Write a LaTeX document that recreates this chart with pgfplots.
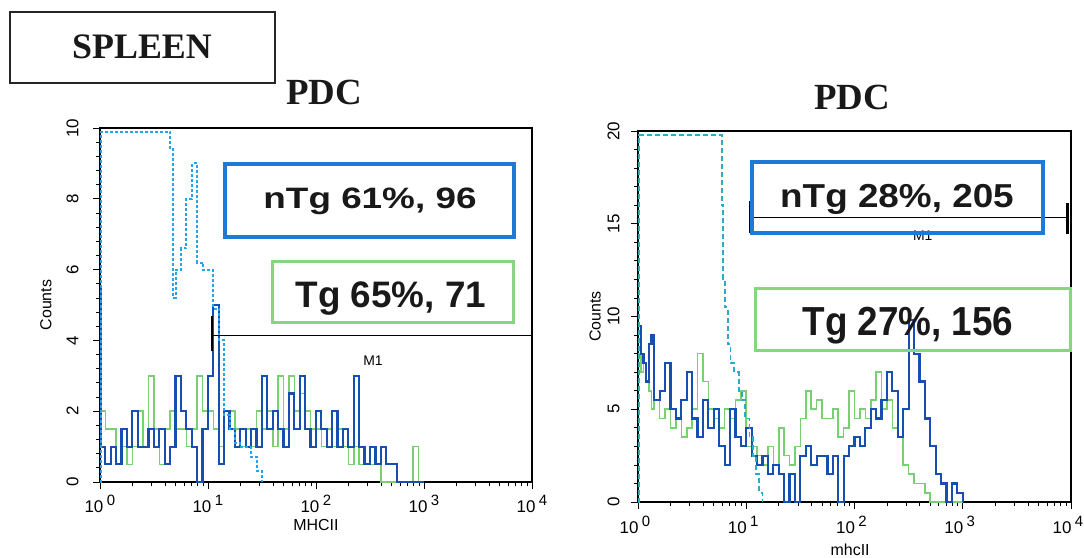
\documentclass[border=0pt]{standalone}
\usepackage{pgfplots}
\pgfplotsset{compat=1.18}
\usepackage{pgfplotstable}
\usepackage{fontspec}
\setmainfont{Liberation Sans}
\newfontfamily\timesf{Liberation Serif}

\definecolor{dblue}{RGB}{22,78,178}
\definecolor{tggreen}{RGB}{120,208,112}
\definecolor{isoL}{RGB}{35,165,235}
\definecolor{isoR}{RGB}{40,172,200}
\definecolor{boxblue}{RGB}{30,122,215}
\definecolor{boxgreen}{RGB}{135,212,130}

% left panel: e = log10(MHCII), counts
\pgfplotstableread{
e nTg Tg
0.00 5.5 2.0
0.01 1.0 2.0
0.05 0.5 1.5
0.10 1.0 1.5
0.15 0.5 0.5
0.20 1.5 1.0
0.25 1.0 0.5
0.30 2.0 1.0
0.35 1.0 2.0
0.40 1.0 1.0
0.45 1.5 3.0
0.50 1.0 1.5
0.55 1.5 0.5
0.60 0.5 1.5
0.65 1.0 2.0
0.70 3.0 1.5
0.75 2.0 1.5
0.80 1.5 1.0
0.85 1.0 1.5
0.90 0.0 3.0
0.95 1.5 2.0
1.00 3.0 2.0
1.05 5.0 1.5
1.10 0.5 1.0
1.15 2.0 2.0
1.20 1.5 2.0
1.25 1.0 1.5
1.30 1.5 1.0
1.35 1.0 1.5
1.40 1.5 1.0
1.45 1.0 2.0
1.50 3.0 1.5
1.55 1.5 2.0
1.60 2.0 1.0
1.65 1.5 3.0
1.70 1.0 1.5
1.75 2.5 3.0
1.80 1.5 2.0
1.85 3.0 2.5
1.90 1.5 2.0
1.95 1.0 1.5
2.00 2.0 1.5
2.05 1.5 1.0
2.10 1.0 1.5
2.15 2.0 1.0
2.20 1.0 1.5
2.25 1.5 1.0
2.30 1.0 0.5
2.35 3.0 1.0
2.40 1.0 0.5
2.45 0.5 0.5
2.50 1.0 0.5
2.55 0.5 0.5
2.60 1.0 0.0
2.65 0.5 0.0
2.70 0.5 0.0
2.75 0.0 0.0
2.80 0.0 0.0
2.85 0.0 0.0
2.90 0.0 1.0
2.95 0.0 0.0
3.00 0.0 0.0
}\leftHist

\pgfplotstableread{
e c
0.00 0.0
0.01 9.9
0.65 9.4
0.675 5.2
0.70 6.0
0.75 6.6
0.80 8.0
0.85 9.0
0.90 6.2
0.95 6.0
1.00 6.0
1.05 4.9
1.10 4.0
1.15 1.9
1.20 1.5
1.25 1.1
1.30 1.0
1.35 1.0
1.40 0.7
1.45 0.3
1.50 0.0
}\leftIso

% right panel
\pgfplotstableread{
e nTg Tg
0.00 9.5 8.0
0.025 8.0 7.0
0.05 7.5 7.5
0.075 6.5 6.5
0.10 8.5 6.0
0.125 9.0 5.0
0.15 5.5 5.5
0.20 6.0 4.5
0.25 7.5 5.0
0.30 5.0 4.0
0.35 4.5 4.5
0.40 5.5 3.5
0.45 7.0 4.0
0.50 4.5 5.0
0.55 3.5 8.0
0.60 5.5 6.5
0.65 4.0 5.0
0.70 5.0 4.5
0.75 3.0 4.0
0.80 2.0 5.0
0.85 5.0 4.5
0.90 3.5 5.5
0.95 3.0 6.0
1.00 4.0 3.0
1.05 2.5 3.0
1.10 2.0 2.5
1.15 2.5 2.0
1.20 1.5 3.0
1.25 2.0 2.0
1.30 1.5 4.0
1.35 0.0 2.5
1.40 1.5 2.0
1.45 0.0 3.0
1.50 2.5 4.5
1.55 3.0 6.0
1.60 2.0 5.0
1.65 2.5 5.5
1.70 2.5 4.5
1.75 1.5 4.5
1.80 2.5 5.0
1.85 0.0 3.5
1.90 2.5 4.0
1.95 3.0 6.0
2.00 3.5 4.5
2.05 3.0 5.0
2.10 4.0 4.5
2.15 5.0 5.5
2.20 4.5 7.0
2.25 5.5 5.0
2.30 7.0 5.5
2.35 6.0 4.0
2.40 3.5 3.5
2.45 5.0 2.0
2.50 9.8 1.5
2.55 8.0 1.0
2.60 6.5 1.0
2.65 4.5 0.5
2.70 3.0 0.0
2.75 1.5 0.0
2.80 1.0 0.0
2.85 0.0 0.0
2.90 1.0 0.0
2.95 0.5 0.0
3.00 0.0 0.0
}\rightHist

\pgfplotstableread{
e c
0.00 0.0
0.01 19.8
0.775 16.0
0.785 12.0
0.80 10.5
0.83 8.5
0.855 7.5
0.89 7.0
0.93 6.0
0.96 5.5
0.99 4.5
1.03 3.5
1.06 2.5
1.09 1.5
1.12 0.5
1.15 0.0
}\rightIso

\newcommand{\tl}[1]{10\makebox[0pt][l]{\hspace{3.5bp}\raisebox{6.5bp}{\fontsize{15}{15}\selectfont #1}}}

\begin{document}
\begin{tikzpicture}
\path[use as bounding box] (0,0) rectangle (1084bp,-558bp);

% ---------- left panel ----------
\begin{axis}[
  scale only axis,
  xmode=log, log basis x=10,
  xmin=1, xmax=10000, ymin=0, ymax=10,
  at={(100bp,-482bp)}, anchor=south west,
  width=432bp, height=354bp,
  axis line style={line width=1.1pt},
  tick align=outside,
  xtick pos=bottom, ytick pos=left,
  major tick length=7bp, minor tick length=4bp,
  tick style={black, line width=0.8pt},
  xtick={1,10,100,1000,10000},
  minor xtick={2,3,4,5,6,7,8,9,20,30,40,50,60,70,80,90,200,300,400,500,600,700,800,900,2000,3000,4000,5000,6000,7000,8000,9000},
  xticklabels={\tl{0},\tl{1},\tl{2},\tl{3},\tl{4}},
  xticklabel style={anchor=north, xshift=-6bp, font=\fontsize{17}{17}\selectfont},
  xticklabel shift=3bp,
  yticklabel style={rotate=90, anchor=south, font=\fontsize{17}{17}\selectfont},
  yticklabel shift=11bp,
  ytick={0,2,4,6,8,10}, yticklabels={0,2,4,6,8,10},
  minor y tick num=4,
  xlabel={MHCII}, ylabel={Counts},
  xlabel style={at={(axis description cs:0.5,-0.121)}, anchor=center, font=\fontsize{16}{16}\selectfont},
  ylabel style={at={(axis description cs:-0.125,0.5)}, anchor=center, font=\fontsize{16}{16}\selectfont},
]
\addplot[const plot, tggreen, line width=1.6bp] table[x expr=10^(\thisrow{e}), y=Tg] {\leftHist};
\addplot[const plot, dblue, line width=2.2bp] table[x expr=10^(\thisrow{e}), y=nTg] {\leftHist};
\addplot[const plot, isoL, line width=2bp, dash pattern=on 3bp off 2bp] table[x expr=10^(\thisrow{e}), y=c] {\leftIso};
\draw[black, line width=1.1bp] (axis cs:10.9,4.15) -- (axis cs:10000,4.15);
\draw[black, line width=2.6bp] (axis cs:10.9,3.7) -- (axis cs:10.9,4.7);
\node[font=\fontsize{14}{14}\selectfont] at (axis cs:337,3.42) {M1};
\end{axis}

% ---------- right panel ----------
\begin{axis}[
  scale only axis,
  xmode=log, log basis x=10,
  xmin=1, xmax=10000, ymin=0, ymax=20,
  at={(638bp,-502bp)}, anchor=south west,
  width=433bp, height=371bp,
  axis line style={line width=1.1pt},
  tick align=outside,
  xtick pos=bottom, ytick pos=left,
  major tick length=7bp, minor tick length=4bp,
  tick style={black, line width=0.8pt},
  xtick={1,10,100,1000,10000},
  minor xtick={2,3,4,5,6,7,8,9,20,30,40,50,60,70,80,90,200,300,400,500,600,700,800,900,2000,3000,4000,5000,6000,7000,8000,9000},
  xticklabels={\tl{0},\tl{1},\tl{2},\tl{3},\tl{4}},
  xticklabel style={anchor=north, xshift=-9bp, font=\fontsize{17}{17}\selectfont},
  xticklabel shift=4bp,
  yticklabel style={rotate=90, anchor=south, font=\fontsize{17}{17}\selectfont},
  yticklabel shift=8bp,
  ytick={0,5,10,15,20}, yticklabels={0,5,10,15,20},
  minor y tick num=4,
  xlabel={mhcII}, ylabel={Counts},
  xlabel style={at={(axis description cs:0.49,-0.129)}, anchor=center, font=\fontsize{16}{16}\selectfont},
  ylabel style={at={(axis description cs:-0.099,0.5)}, anchor=center, font=\fontsize{16}{16}\selectfont},
]
\addplot[const plot, tggreen, line width=1.6bp] table[x expr=10^(\thisrow{e}), y=Tg] {\rightHist};
\addplot[const plot, dblue, line width=2.2bp] table[x expr=10^(\thisrow{e}), y=nTg] {\rightHist};
\addplot[const plot, isoR, line width=1.8bp, dash pattern=on 5bp off 3bp] table[x expr=10^(\thisrow{e}), y=c] {\rightIso};
\draw[black, line width=1.1bp] (axis cs:10.8,15.35) -- (axis cs:9330,15.35);
\draw[black, line width=1.1bp] (axis cs:10.8,14.5) -- (axis cs:10.8,16.2);
\draw[black, line width=2.6bp] (axis cs:9330,14.45) -- (axis cs:9330,16.1);
\node[font=\fontsize{14}{14}\selectfont] at (axis cs:427,14.35) {M1};
\end{axis}

% ---------- annotations (pixel coordinates) ----------
\begin{scope}[x=1bp, y=-1bp]
\draw[black!85, line width=1.5bp] (10,12) rectangle (275,83);
\node[font=\timesf\bfseries\fontsize{36}{36}\selectfont, text=black!90] at (142,47) {SPLEEN};
\node[font=\timesf\bfseries\fontsize{37}{37}\selectfont, text=black!90] at (324,92) {PDC};
\node[font=\timesf\bfseries\fontsize{37}{37}\selectfont, text=black!90] at (852,97) {PDC};

\draw[boxblue, line width=3.5bp] (225,164) rectangle (514,237);
\node[anchor=base, font=\bfseries\fontsize{37}{37}\selectfont, text=black!90] at (370,208) {\scalebox{1}[0.8]{nTg 61\%, 96}};
\draw[boxgreen, line width=3bp] (272,261) rectangle (513,322);
\node[anchor=base, font=\bfseries\fontsize{37}{37}\selectfont, text=black!90] at (391,307) {Tg 65\%, 71};

\draw[boxblue, line width=3.5bp] (752,162) rectangle (1043,233);
\node[anchor=base, font=\bfseries\fontsize{37}{37}\selectfont, text=black!90] at (897,207) {\scalebox{1}[0.9]{nTg 28\%, 205}};
\draw[boxgreen, line width=3bp] (755,288) rectangle (1070,350);
\node[anchor=base, font=\bfseries\fontsize{37}{37}\selectfont, text=black!90] at (908,335) {\scalebox{1}[1.1]{Tg 27\%, 156}};
\end{scope}
\end{tikzpicture}
\end{document}
